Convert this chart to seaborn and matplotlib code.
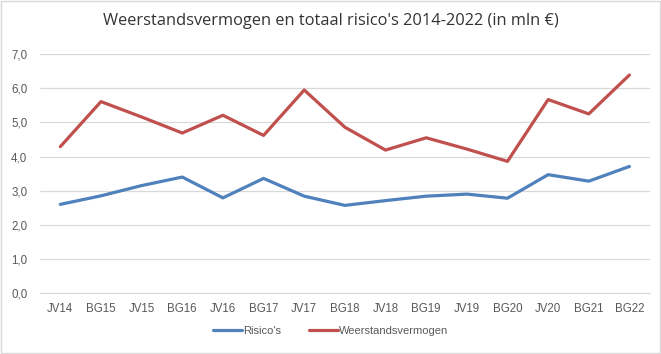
import matplotlib.pyplot as plt
import matplotlib.patches as mpatches
import pandas as pd
import seaborn as sns

periodes = ["JV14", "BG15", "JV15", "BG16", "JV16", "BG17", "JV17", "BG18",
            "JV18", "BG19", "JV19", "BG20", "JV20", "BG21", "BG22"]
risicos = [2.60, 2.85, 3.15, 3.40, 2.79, 3.36, 2.84, 2.57,
           2.71, 2.84, 2.90, 2.78, 3.47, 3.28, 3.71]
weerstandsvermogen = [4.29, 5.61, 5.16, 4.69, 5.21, 4.62, 5.95, 4.86,
                      4.19, 4.55, 4.22, 3.86, 5.67, 5.25, 6.39]

df = pd.DataFrame({
    "periode": periodes * 2,
    "waarde": risicos + weerstandsvermogen,
    "reeks": ["Risico's"] * len(periodes) + ["Weerstandsvermogen"] * len(periodes),
})

sns.set_style("white")
plt.rcParams["font.family"] = ["Liberation Sans", "DejaVu Sans"]

fig = plt.figure(figsize=(6.61, 3.54), dpi=100)
ax = fig.add_axes([0.0605, 0.172, 0.9225, 0.675])

sns.lineplot(data=df, x="periode", y="waarde", hue="reeks", sort=False,
             palette={"Risico's": "#4F81BD", "Weerstandsvermogen": "#C0504D"},
             linewidth=2.3, ax=ax, legend=False)

ax.set_xlim(-0.5, len(periodes) - 0.5)
ax.set_ylim(0, 7)
ax.set_yticks(range(0, 8))
ax.set_yticklabels([f"{v},0" for v in range(0, 8)])
ax.set_xlabel("")
ax.set_ylabel("")
ax.yaxis.grid(True, color="#D9D9D9", linewidth=0.9)
ax.set_axisbelow(True)
for s in ["left", "right", "top"]:
    ax.spines[s].set_visible(False)
ax.spines["bottom"].set_color("#D9D9D9")
ax.tick_params(axis="both", length=0, labelsize=8.3, colors="#595959", pad=7)
ax.tick_params(axis="y", pad=9)

fig.text(0.5, 0.94, "Weerstandsvermogen en totaal risico's 2014-2022 (in mln €)",
         ha="center", va="center", fontsize=11.8, color="#333333",
         family=["Open Sans", "DejaVu Sans"])

handles = [plt.Line2D([], [], color="#4F81BD", lw=2.3),
           plt.Line2D([], [], color="#C0504D", lw=2.3)]
fig.legend(handles, ["Risico's", "Weerstandsvermogen"], loc="center",
           bbox_to_anchor=(0.5, 0.065), ncol=2, frameon=False, fontsize=8,
           handlelength=2.6, handletextpad=0.1, columnspacing=2.5,
           labelcolor="#595959")

fig.patches.append(mpatches.Rectangle((0.001, 0.002), 0.997, 0.995,
                                      transform=fig.transFigure, fill=False,
                                      edgecolor="#D9D9D9", linewidth=1))

fig.savefig("out.png", dpi=100)
